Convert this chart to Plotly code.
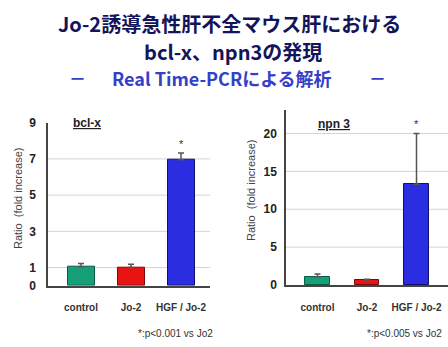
import plotly.graph_objects as go

# Groups and measurements
groups = ["control", "Jo-2", "HGF/Jo-2"]
group_labels = ["control", "Jo-2", "HGF / Jo-2"]
bclx_ratio = [1.05, 1.0, 6.95]
bclx_err = [0.18, 0.18, 0.38]
npn3_ratio = [1.1, 0.65, 13.3]
npn3_err = [0.35, 0.1, 6.7]

bar_fill = ["#16a07a", "#e81414", "#2a2ee0"]
bar_edge = ["#0a5a44", "#7a0a0a", "#10106a"]

bclx_ticks = [0, 1, 3, 5, 7, 9]
npn3_ticks = [0, 5, 10, 15, 20]

W, H = 448, 347
fig = go.Figure()

x_idx = list(range(len(groups)))

fig.add_trace(go.Bar(
    x=x_idx, y=bclx_ratio, width=0.54,
    marker=dict(color=bar_fill, line=dict(color=bar_edge, width=1)),
    error_y=dict(type="data", array=bclx_err, arrayminus=[0] * 3, symmetric=False,
                 color="#555555", thickness=1.5, width=3),
    xaxis="x", yaxis="y", showlegend=False, hoverinfo="skip",
))
fig.add_trace(go.Bar(
    x=x_idx, y=npn3_ratio, width=0.5,
    marker=dict(color=bar_fill, line=dict(color=bar_edge, width=1)),
    error_y=dict(type="data", array=npn3_err, arrayminus=[0] * 3, symmetric=False,
                 color="#555555", thickness=1.5, width=3),
    xaxis="x2", yaxis="y2", showlegend=False, hoverinfo="skip",
))

tickfont = dict(family="Liberation Sans, Arial", size=12, color="#222222", weight="bold")
catfont = dict(family="Liberation Sans Narrow, Liberation Sans", size=10, color="#333333", weight="bold")
axis_line = dict(showline=True, linecolor="#444444", linewidth=1.5, zeroline=False, automargin=False)

fig.update_layout(
    width=W, height=H,
    margin=dict(l=0, r=0, t=0, b=0, autoexpand=False),
    paper_bgcolor="white", plot_bgcolor="white",
    bargap=0,
    xaxis=dict(domain=[48 / W, 210 / W], range=[-0.66, 2.58], anchor="y",
               tickvals=x_idx, ticktext=group_labels, tickfont=catfont,
               ticks="outside", ticklen=12, tickcolor="rgba(0,0,0,0)",
               showgrid=False, **axis_line),
    yaxis=dict(domain=[(H - 285.7) / H, (H - 122.7) / H], range=[0, 9], anchor="x",
               tickvals=bclx_ticks, tickfont=tickfont,
               ticks="outside", ticklen=8, tickcolor="rgba(0,0,0,0)",
               showgrid=False, **axis_line),
    xaxis2=dict(domain=[286 / W, 1.0], range=[-0.636, 2.636], anchor="y2",
                tickvals=x_idx, ticktext=group_labels, tickfont=catfont,
                ticks="outside", ticklen=12, tickcolor="rgba(0,0,0,0)",
                showgrid=False, **axis_line),
    yaxis2=dict(domain=[(H - 285) / H, (H - 110) / H], range=[0, 23.1], anchor="x2",
                tickvals=npn3_ticks, tickfont=tickfont,
                ticks="outside", ticklen=5, tickcolor="rgba(0,0,0,0)",
                showgrid=False, **axis_line),
)

# Horizontal reference lines behind the bars
shapes = []
for v in bclx_ticks[1:-1]:
    shapes.append(dict(type="line", xref="x domain", yref="y", x0=0, x1=1, y0=v, y1=v,
                       line=dict(color="#d4d4d4", width=1), layer="below"))
for v in npn3_ticks[1:]:
    shapes.append(dict(type="line", xref="x2 domain", yref="y2", x0=0, x1=1, y0=v, y1=v,
                       line=dict(color="#d4d4d4", width=1), layer="below"))
fig.update_layout(shapes=shapes)

ann = []
# Significance markers above the HGF/Jo-2 bars
ann.append(dict(x=2, y=bclx_ratio[2] + bclx_err[2], xref="x", yref="y", text="*",
                showarrow=False, yshift=9, font=dict(family="Liberation Sans", size=11, color="#333333")))
ann.append(dict(x=2, y=npn3_ratio[2] + npn3_err[2], xref="x2", yref="y2", text="*",
                showarrow=False, yshift=9, font=dict(family="Liberation Sans", size=11, color="#333333")))

# Panel labels
ann.append(dict(x=87, y=H - 123, xref="paper", yref="paper", text="<b><u>bcl-x</u></b>",
                showarrow=False, font=dict(family="Liberation Sans Narrow, Liberation Sans", size=12, color="#222222")))
ann.append(dict(x=334, y=H - 124, xref="paper", yref="paper", text="<b><u>npn 3</u></b>",
                showarrow=False, font=dict(family="Liberation Sans Narrow, Liberation Sans", size=12, color="#222222")))

# Y-axis titles
for xp, yp in [(18, 198), (251, 190)]:
    ann.append(dict(x=xp, y=H - yp, xref="paper", yref="paper", text="Ratio  (fold increase)",
                    textangle=-90, showarrow=False,
                    font=dict(family="Liberation Sans Narrow, Liberation Sans", size=11, color="#444444")))

# Footnotes
ann.append(dict(x=175, y=H - 333, xref="paper", yref="paper", text="*:p<0.001 vs Jo2",
                showarrow=False, font=dict(family="Liberation Sans", size=10, color="#333333")))
ann.append(dict(x=404, y=H - 333, xref="paper", yref="paper", text="*:p<0.005 vs Jo2",
                showarrow=False, font=dict(family="Liberation Sans", size=10, color="#333333")))

# Title block
ann.append(dict(x=230, y=H - 23, xref="paper", yref="paper",
                text="Jo-2誘導急性肝不全マウス肝における", showarrow=False,
                font=dict(family="Noto Sans CJK JP", size=20, color="#14145a", weight="bold")))
ann.append(dict(x=233, y=H - 52, xref="paper", yref="paper",
                text="bcl-x、npn3の発現", showarrow=False,
                font=dict(family="Noto Sans CJK JP", size=20, color="#14145a", weight="bold")))
ann.append(dict(x=222, y=H - 78, xref="paper", yref="paper",
                text="Real Time-PCRによる解析", showarrow=False,
                font=dict(family="Noto Sans CJK JP", size=18, color="#3440c8", weight="bold")))
for xd in (77, 377):
    ann.append(dict(x=xd, y=H - 78, xref="paper", yref="paper", text="－", showarrow=False,
                    font=dict(family="Noto Sans CJK JP", size=17, color="#3440c8", weight="bold")))

for a in ann:
    a["xanchor"] = "center"
    a["yanchor"] = "middle"
    if a["xref"] == "paper":
        a["x"] = a["x"] / W
        a["y"] = a["y"] / H
fig.update_layout(annotations=ann)

fig.write_html("out.html")
